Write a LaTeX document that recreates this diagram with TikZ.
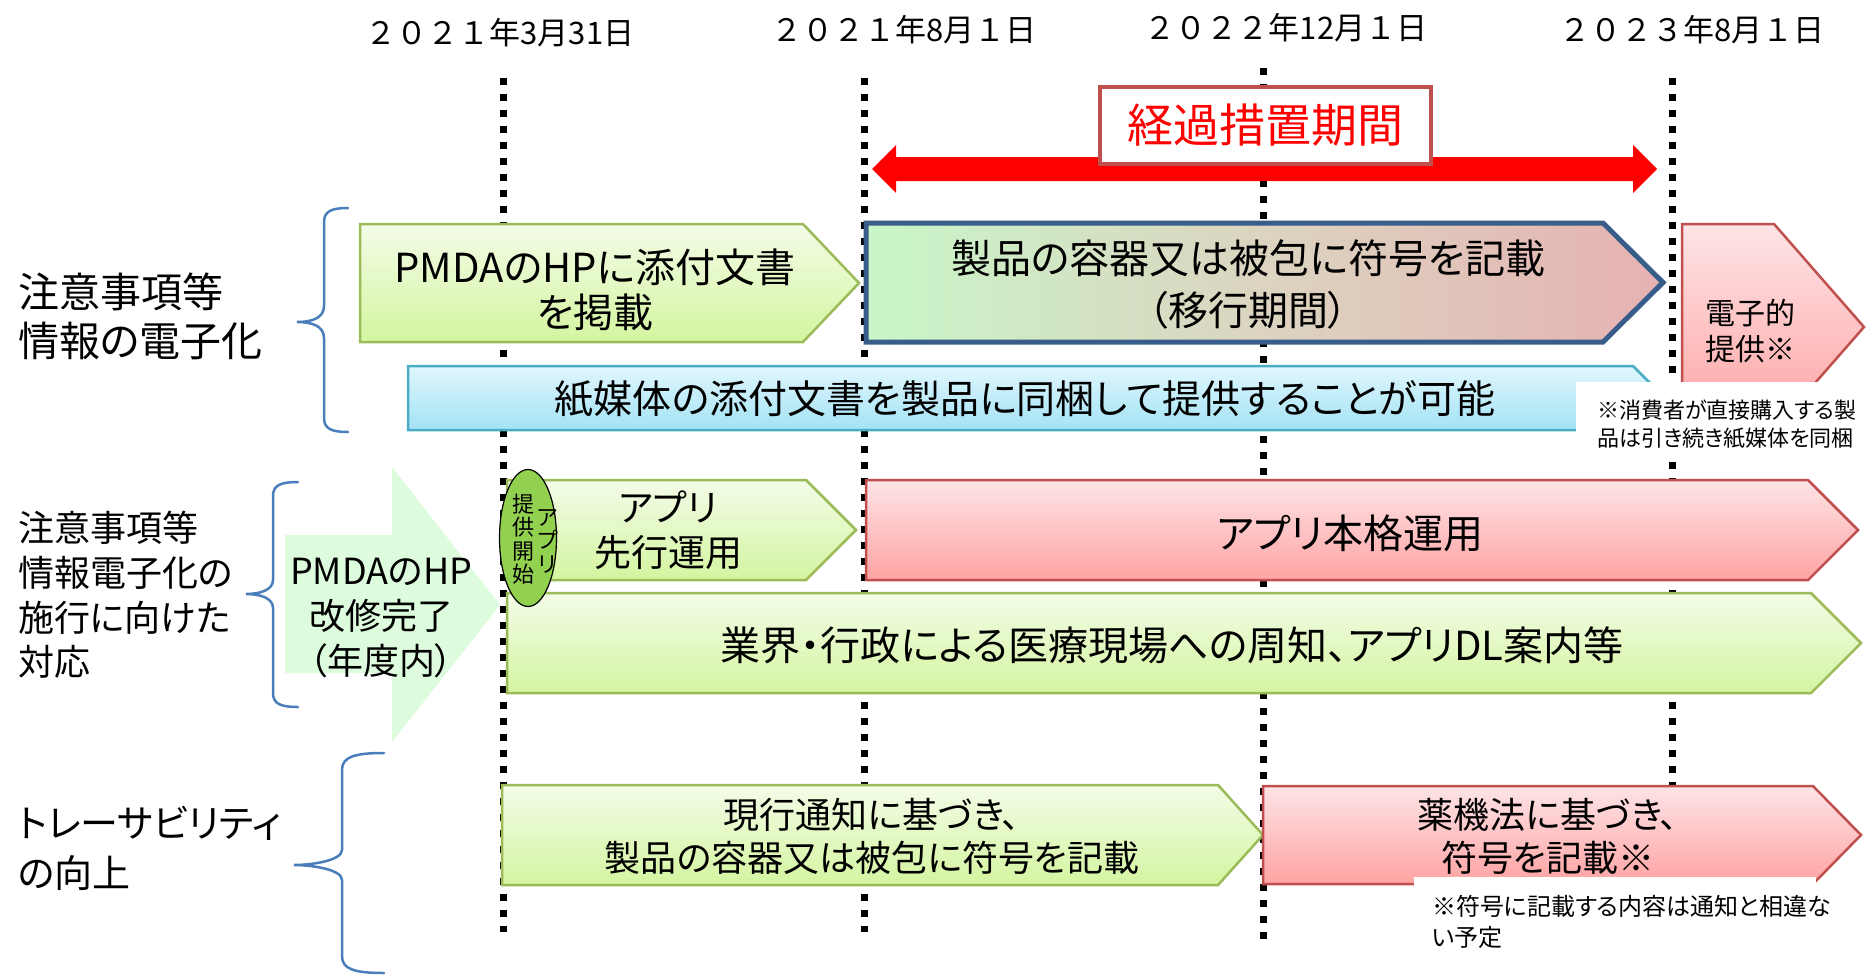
\documentclass[tikz,border=0pt]{standalone}
\usepackage{fontspec}
\setmainfont{Noto Sans CJK JP}[RawFeature=+palt]
\newfontfamily\jfix{Noto Sans CJK JP}
\usetikzlibrary{shapes.geometric}
\definecolor{gborder}{HTML}{9BBB59}
\definecolor{gtop}{HTML}{F3FCE7}
\definecolor{gbot}{HTML}{D4F5A0}
\definecolor{rborder}{HTML}{C0504D}
\definecolor{rtop}{HTML}{FDE4E6}
\definecolor{rbot}{HTML}{FFA3A3}
\definecolor{btop}{HTML}{E0F7FD}
\definecolor{bbot}{HTML}{A3E2F5}
\definecolor{bborder}{HTML}{4BACC6}
\definecolor{navy}{HTML}{385D8A}
\definecolor{mleft}{HTML}{C8F6C8}
\definecolor{mmid}{HTML}{DCD4C0}
\definecolor{mright}{HTML}{E6B2B2}
\definecolor{paleg}{HTML}{DDFBDD}
\definecolor{bracec}{HTML}{4A7EBB}
\definecolor{appg}{HTML}{92D050}
\newcommand{\fz}[2]{\fontsize{#1}{#2}\selectfont}
\newcommand{\pent}[6]{\path[#1] (#2,#3) -- (#5,#3) -- (#6,{(#3+#4)/2}) -- (#5,#4) -- (#2,#4) -- cycle;}
\tikzset{
  dotline/.style={line width=7pt, dash pattern=on 7pt off 9pt, black},
  gshape/.style={draw=gborder, line width=2.5pt, top color=gtop, bottom color=gbot},
  rshape/.style={draw=rborder, line width=2.5pt, top color=rtop, bottom color=rbot},
  bshape/.style={draw=bborder, line width=2.5pt, top color=btop, bottom color=bbot},
  txt/.style={align=center, inner sep=0pt},
  lbl/.style={align=left, inner sep=0pt, anchor=west},
  datel/.style={inner sep=0pt, font=\jfix\fz{31}{31}},
  bracep/.style={draw=bracec, line width=2.5pt, line cap=round}
}
\begin{document}
\begin{tikzpicture}[x=1pt,y=-1pt]
\useasboundingbox (0,0) rectangle (1872,977);

% date labels
\node[datel] (d1) at (500,33) {２０２１年3月31日};
\node[datel] (d2) at (904,30) {２０２１年8月１日};
\node[datel] (d3) at (1286,28) {２０２２年12月１日};
\node[datel] (d4) at (1692,30) {２０２３年8月１日};

% dotted timeline lines
\coordinate (L1t) at (503,78);  \coordinate (L1b) at (503,932);
\coordinate (L2t) at (864,78);  \coordinate (L2b) at (864,932);
\coordinate (L3t) at (1263,68); \coordinate (L3b) at (1263,948);
\coordinate (L4t) at (1672,78); \coordinate (L4b) at (1672,800);
\draw[dotline] (L1t) -- (L1b);
\draw[dotline] (L2t) -- (L2b);
\draw[dotline] (L3t) -- (L3b);
\draw[dotline] (L4t) -- (L4b);

% red double arrow
\fill[red] (872,169) -- (896,145) -- (896,157) -- (1633,157) -- (1633,145) -- (1657,169)
  -- (1633,193) -- (1633,181) -- (896,181) -- (896,193) -- cycle;
\node[draw=rborder, line width=4pt, fill=white, minimum width=331pt, minimum height=77pt,
  inner sep=0pt, text=red, font=\fz{46}{46}] (keika) at (1265.5,125.5) {経過措置期間};

% left labels
\node[lbl, font=\fz{41}{49}] (lab1) at (18,316) {注意事項等\\情報の電子化};
\node[lbl, font=\fz{36}{44.7}] (lab2) at (18,595) {注意事項等\\情報電子化の\\施行に向けた\\対応};
\node[lbl, font=\fz{38}{50}] (lab3) at (18,848) {トレーサビリティ\\の向上};

% braces
\draw[bracep] (348,208) .. controls (332,208) and (324,211) .. (324,222) -- (324,306)
  .. controls (324,318) and (312,322) .. (297,322) .. controls (312,322) and (324,326) .. (324,338)
  -- (324,418) .. controls (324,429) and (332,432) .. (348,432);
\draw[bracep] (298,482) .. controls (281,482) and (273,485) .. (273,496) -- (273,580)
  .. controls (273,590) and (260,594) .. (246,594) .. controls (260,594) and (273,598) .. (273,608)
  -- (273,693) .. controls (273,704) and (281,707) .. (298,707);
\draw[bracep] (384,753) .. controls (354,753) and (342,757) .. (342,770) -- (342,850)
  .. controls (342,861) and (310,865) .. (294,865) .. controls (310,865) and (342,869) .. (342,880)
  -- (342,956) .. controls (342,969) and (354,973) .. (384,973);

% row 1
\pent{gshape}{360}{224}{342}{803}{859}
\node[txt, font=\fz{40}{45}] (hp) at (595,290) {PMDAのHPに添付文書\\を掲載};
\path[draw=navy, line width=5pt, left color=mleft, right color=mright, middle color=mmid]
  (866,223) -- (1603,223) -- (1663,282.5) -- (1603,342) -- (866,342) -- cycle;
\node[txt, font=\fz{40}{52}] (seihin) at (1248,285) {製品の容器又は被包に符号を記載\\（移行期間）};
\pent{rshape}{1682}{224}{430}{1774}{1864}
\node[txt, font=\fz{30}{36}] (denshi) at (1750,331) {電子的\\提供※};
\pent{bshape}{408}{366}{430}{1633}{1665}
\node[txt, font=\fz{39}{39}] (kami) at (1025,399) {紙媒体の添付文書を製品に同梱して提供することが可能};
\fill[white] (1576,382) rectangle (1872,455);
\node[lbl, font=\fz{22}{28}] (note1) at (1597,424) {※消費者が直接購入する製\\品は引き続き紙媒体を同梱};

% row 2
\fill[paleg] (285,535) -- (392,535) -- (392,467) -- (500,605) -- (392,742) -- (392,673) -- (285,673) -- cycle;
\node[txt, font=\fz{36}{45}] (kaishu) at (381,618) {PMDAのHP\\改修完了\\（年度内）};
\pent{gshape}{507}{480}{580}{806}{856}
\node[txt, font=\fz{37}{45}] (senko) at (668,530) {アプリ\\先行運用};
\pent{rshape}{866}{480}{580}{1808}{1858}
\node[txt, font=\fz{40}{40}] (honkaku) at (1350,533) {アプリ本格運用};
\pent{gshape}{507}{593}{693}{1811}{1861}
\node[txt, font=\fz{40}{40}] (gyokai) at (1172,645) {業界・行政による医療現場への周知、アプリDL案内等};
\node[draw=black, line width=1.2pt, fill=appg, ellipse, minimum width=57pt, minimum height=137pt,
  inner sep=0pt] (app) at (528,538) {};
\node[txt, font=\jfix\fz{22}{23.5}] (appcol) at (547,541) {ア\\プ\\リ};
\node[txt, font=\jfix\fz{22}{23.5}] (teikyo) at (523,539) {提\\供\\開\\始};

% row 3
\pent{gshape}{502}{785}{885}{1218}{1263}
\node[txt, font=\fz{36}{43}] (genko) at (872,836) {現行通知に基づき、\\製品の容器又は被包に符号を記載};
\pent{rshape}{1263}{786}{884}{1813}{1861}
\node[txt, font=\fz{36}{43}] (yakki) at (1548,836) {薬機法に基づき、\\符号を記載※};
\fill[white] (1414,877) rectangle (1816,957);
\node[lbl, font=\fz{24}{31}] (note2) at (1432,922) {※符号に記載する内容は通知と相違な\\い予定};
\end{tikzpicture}
\end{document}
